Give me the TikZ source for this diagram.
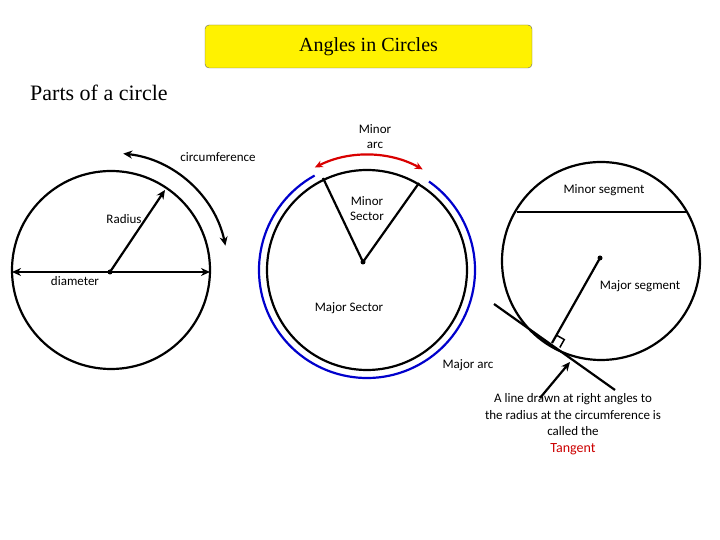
\documentclass[tikz,border=0pt]{standalone}
\usepackage{fontspec}
\setmainfont{Liberation Serif}
\newfontfamily\lab{Carlito}
\usetikzlibrary{arrows.meta}
\begin{document}
\begin{tikzpicture}[x=1pt,y=1pt,
  lbl/.style={font=\lab\fontsize{13}{15}\selectfont,inner sep=0pt},
  thk/.style={line width=2.2pt},
  arr/.style={-{Stealth[length=9pt,width=8pt]}}]
\useasboundingbox (0,0) rectangle (720,540);
% title
\node[draw=black!60,fill=yellow,rounded corners=4pt,minimum width=327,minimum height=43,font=\fontsize{20}{24}\selectfont] (title) at (368.5,493.5) {Angles in Circles};
\node[anchor=west,font=\fontsize{22}{26}\selectfont,inner sep=0pt] (parts) at (30,447) {Parts of a circle};
% left circle
\coordinate (lc) at (111,270);
\draw[thk] (lc) circle (99);
\coordinate (ld1) at (12,268);
\coordinate (ld2) at (210,268);
\draw[thk,{Stealth[length=9pt,width=8pt]}-{Stealth[length=9pt,width=8pt]}] (ld1) -- (ld2);
\coordinate (lo) at (110,268);
\fill (lo) circle (2.5);
\coordinate (lr) at (165,350);
\draw[thk,arr] (lo) -- (lr);
\draw[thk,{Stealth[length=9pt,width=8pt]}-{Stealth[length=9pt,width=8pt]}] (lc) ++(84:117) arc (84:12:117);
\node[lbl] (circ) at (218,383) {circumference};
\node[lbl] (rad) at (124,321) {Radius};
\node[lbl] (diam) at (75,259) {diameter};
% middle circle
\coordinate (mc) at (367,270);
\draw[thk] (mc) circle (100);
\draw[line width=2.2pt,blue!80!black] (mc) ++(119:108) arc (119:415:108);
\draw[line width=2.2pt,red!85!black,{Stealth[length=8pt,width=7pt]}-{Stealth[length=8pt,width=7pt]}] (mc) ++(117:115) arc (117:61:115);
\coordinate (mo) at (363,278);
\coordinate (m1) at (323,362);
\coordinate (m2) at (419,357);
\draw[thk] (m1) -- (mo) -- (m2);
\fill (mo) circle (2.5);
\node[lbl,align=center] (minarc) at (375,403) {Minor\\arc};
\node[lbl,align=center] (minsec) at (367,331) {Minor\\Sector};
\node[lbl] (majsec) at (349,232) {Major Sector};
\node[lbl] (majarc) at (468,175) {Major arc};
% right circle
\coordinate (rc) at (601,279);
\draw[thk] (rc) circle (99);
\coordinate (ch1) at (517,328);
\coordinate (ch2) at (686,328);
\draw[thk] (ch1) -- (ch2);
\coordinate (ro) at (600,282);
\fill (ro) circle (2.5);
\coordinate (rt) at (552,197);
\draw[thk] (ro) -- (rt);
\coordinate (t1) at (494,236);
\coordinate (t2) at (615,150);
\draw[thk] (t1) -- (t2);
\draw[line width=1.5pt] (rt) ++(60.5:9) -- ++(-29.5:9) -- ++(-119.5:9);
\coordinate (a1) at (540,142);
\coordinate (a2) at (570,178);
\draw[thk,arr] (a1) -- (a2);
\node[lbl] (minseg) at (604,350) {Minor segment};
\node[lbl] (majseg) at (640,254) {Major segment};
\node[lbl,align=center,font=\lab\fontsize{13}{16.5}\selectfont] (tan) at (573,116) {A line drawn at right angles to\\the radius at the circumference is\\called the\\{\color{red!80!black}\fontsize{14}{18}\selectfont Tangent}};
\end{tikzpicture}
\end{document}
